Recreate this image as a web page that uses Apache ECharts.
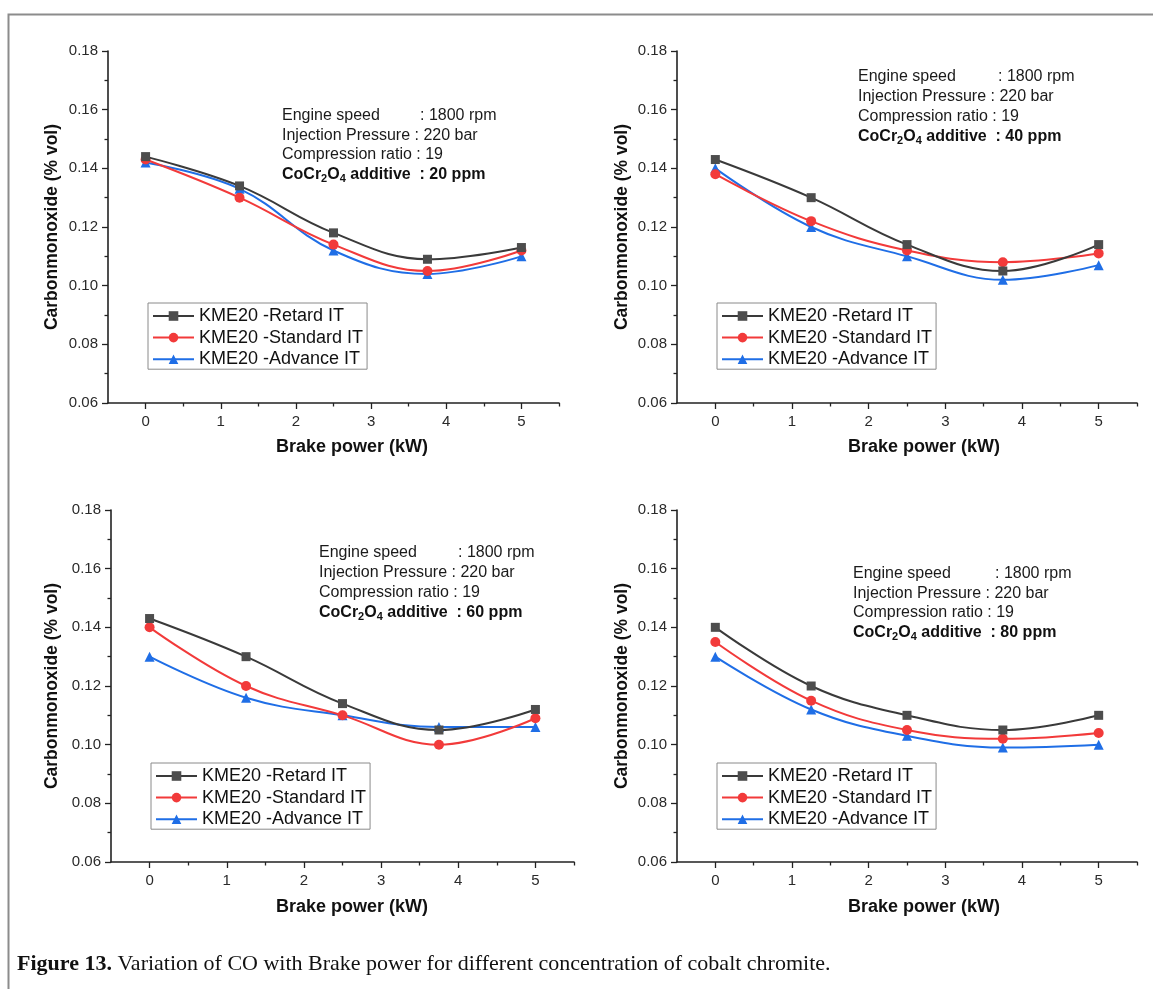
<!DOCTYPE html>
<html>
<head>
<meta charset="utf-8">
<script src="https://cdn.jsdelivr.net/npm/echarts@6/dist/echarts.min.js"></script>
<style>
html,body{margin:0;padding:0;background:#fff;}
#chart{width:1153px;height:989px;}
</style>
</head>
<body>
<div id="chart"></div>
<script>
// ---- data ----
const brakePower = [0, 1.25, 2.5, 3.75, 5];
const seriesNames = ['KME20 -Retard IT', 'KME20 -Standard IT', 'KME20 -Advance IT'];
const xTickValues = [0, 1, 2, 3, 4, 5];
const xMinorTickValues = [0.5, 1.5, 2.5, 3.5, 4.5, 5.5];
const additiveLabels = ['20 ppm', '40 ppm', '60 ppm', '80 ppm'];

const retard20 = [0.144, 0.134, 0.118, 0.109, 0.113];
const standard20 = [0.143, 0.130, 0.114, 0.105, 0.112];
const advance20 = [0.142, 0.133, 0.112, 0.104, 0.110];

const retard40 = [0.143, 0.130, 0.114, 0.105, 0.114];
const standard40 = [0.138, 0.122, 0.112, 0.108, 0.111];
const advance40 = [0.140, 0.120, 0.110, 0.102, 0.107];

const retard60 = [0.143, 0.130, 0.114, 0.105, 0.112];
const standard60 = [0.140, 0.120, 0.110, 0.100, 0.109];
const advance60 = [0.130, 0.116, 0.110, 0.106, 0.106];

const retard80 = [0.140, 0.120, 0.110, 0.105, 0.110];
const standard80 = [0.135, 0.115, 0.105, 0.102, 0.104];
const advance80 = [0.130, 0.112, 0.103, 0.099, 0.100];

const panelData = [
  [retard20, standard20, advance20],
  [retard40, standard40, advance40],
  [retard60, standard60, advance60],
  [retard80, standard80, advance80]
];

// ---- layout / style ----
const FONT = 'Arial, "Liberation Sans", sans-serif';
const SERIF = '"Liberation Serif", "Times New Roman", serif';
const grids = [
  {left: 108, top: 51, width: 451, height: 352},
  {left: 677, top: 51, width: 460, height: 352},
  {left: 111, top: 510, width: 463, height: 352},
  {left: 677, top: 510, width: 460, height: 352}
];
const legendPos = [
  {left: 148, top: 303},
  {left: 717, top: 303},
  {left: 151, top: 763},
  {left: 717, top: 763}
];
const annot = [
  {x: 282, y: 116, colon: 420, dy: 19.4},
  {x: 858, y: 77, colon: 998, dy: 19.7},
  {x: 319, y: 553, colon: 458, dy: 19.7},
  {x: 853, y: 574, colon: 995, dy: 19.4}
];
const xTitlePos = [{x: 352, y: 447}, {x: 924, y: 447}, {x: 352, y: 907}, {x: 924, y: 907}];
const yTitlePos = [{x: 52, y: 227}, {x: 622, y: 227}, {x: 52, y: 686}, {x: 622, y: 686}];

const styles = [
  {line: '#3a3a3a', fill: '#4d4d4d', symbol: 'rect', size: 9},
  {line: '#f23a3a', fill: '#f23a3a', symbol: 'circle', size: 10},
  {line: '#1f6ee6', fill: '#1f6ee6', symbol: 'triangle', size: 10}
];

const axisColor = '#222';
const xAxes = [], yAxes = [], series = [], legends = [], graphics = [];

grids.forEach((g, i) => {
  xAxes.push({
    type: 'value', gridIndex: i, min: -0.5, max: 5.5,
    axisLine: {show: true, onZero: false, lineStyle: {color: axisColor, width: 1.6}},
    axisTick: {show: true, customValues: xTickValues, length: 6, lineStyle: {color: axisColor, width: 1.3}},
    axisLabel: {show: true, customValues: xTickValues, fontSize: 15, color: '#2a2a2a', fontFamily: FONT, margin: 11},
    splitLine: {show: false}
  });
  xAxes.push({
    type: 'value', gridIndex: i, min: -0.5, max: 5.5, position: 'bottom',
    axisLine: {show: false, onZero: false},
    axisTick: {show: true, customValues: xMinorTickValues, length: 3.5, lineStyle: {color: axisColor, width: 1.3}},
    axisLabel: {show: false},
    splitLine: {show: false}
  });
  yAxes.push({
    type: 'value', gridIndex: i, min: 0.06, max: 0.18, interval: 0.02,
    axisLine: {show: true, onZero: false, lineStyle: {color: axisColor, width: 1.6}},
    axisTick: {show: true, length: 6, lineStyle: {color: axisColor, width: 1.3}},
    minorTick: {show: true, splitNumber: 2, length: 3.5, lineStyle: {color: axisColor, width: 1.3}},
    axisLabel: {fontSize: 15, color: '#2a2a2a', fontFamily: FONT, margin: 10,
      formatter: v => v.toFixed(2)},
    splitLine: {show: false}
  });
  panelData[i].forEach((vals, k) => {
    const st = styles[k];
    series.push({
      name: seriesNames[k], type: 'line', xAxisIndex: 2 * i, yAxisIndex: i,
      data: brakePower.map((x, j) => [x, vals[j]]),
      smooth: 0.4,
      symbol: st.symbol, symbolSize: st.size,
      lineStyle: {color: st.line, width: 2},
      itemStyle: {color: st.fill},
      z: 3 + (2 - k),
      animation: false
    });
  });
  legends.push({
    data: seriesNames, orient: 'vertical', left: legendPos[i].left, top: legendPos[i].top,
    itemWidth: 41, itemHeight: 12, itemGap: 3.6,
    padding: [4, 4, 1, 4],
    borderColor: '#8a8a8a', borderWidth: 1,
    textStyle: {fontSize: 18, lineHeight: 18, color: '#111', fontFamily: FONT},
    selectedMode: false
  });

  // annotations
  const a = annot[i];
  graphics.push({type: 'text', x: a.x, y: a.y, silent: true,
    style: {text: 'Engine speed', fill: '#1a1a1a', font: '16px ' + FONT, verticalAlign: 'middle'}});
  graphics.push({type: 'text', x: a.colon, y: a.y, silent: true,
    style: {text: ': 1800 rpm', fill: '#1a1a1a', font: '16px ' + FONT, verticalAlign: 'middle'}});
  graphics.push({type: 'text', x: a.x, y: a.y + a.dy, silent: true,
    style: {text: 'Injection Pressure : 220 bar', fill: '#1a1a1a', font: '16px ' + FONT, verticalAlign: 'middle'}});
  graphics.push({type: 'text', x: a.x, y: a.y + 2 * a.dy, silent: true,
    style: {text: 'Compression ratio : 19', fill: '#1a1a1a', font: '16px ' + FONT, verticalAlign: 'middle'}});
  graphics.push({type: 'text', x: a.x, y: a.y + 3 * a.dy - 10, silent: true,
    style: {
      text: '{b|CoCr}{s|2}{b|O}{s|4}{b| additive  : ' + additiveLabels[i] + '}',
      rich: {
        b: {fontSize: 16, fontWeight: 'bold', fontFamily: FONT, fill: '#111', lineHeight: 20},
        s: {fontSize: 11, fontWeight: 'bold', fontFamily: FONT, fill: '#111', lineHeight: 10, padding: [10, 0, 0, 0]}
      }
    }});

  // axis titles
  graphics.push({type: 'text', x: xTitlePos[i].x, y: xTitlePos[i].y, silent: true,
    style: {text: 'Brake power (kW)', fill: '#111', font: 'bold 18px ' + FONT, align: 'center', verticalAlign: 'middle'}});
  graphics.push({type: 'text', x: yTitlePos[i].x, y: yTitlePos[i].y, rotation: Math.PI / 2, silent: true,
    style: {text: 'Carbonmonoxide (% vol)', fill: '#111', font: 'bold 17.5px ' + FONT, align: 'center', verticalAlign: 'middle'}});
});

// frame
graphics.unshift({type: 'rect', shape: {x: 8.5, y: 14.5, width: 1300, height: 1100}, silent: true,
  style: {fill: 'none', stroke: '#8c8c8c', lineWidth: 2}, z: -10});
// caption
graphics.push({type: 'text', x: 17, y: 964, silent: true,
  style: {
    text: '{b|Figure 13.}{n| Variation of CO with Brake power for different concentration of cobalt chromite.}',
    verticalAlign: 'middle',
    rich: {
      b: {fontSize: 22, fontWeight: 'bold', fontFamily: SERIF, fill: '#111'},
      n: {fontSize: 22, fontFamily: SERIF, fill: '#111'}
    }
  }});

const chart = echarts.init(document.getElementById('chart'), null, {renderer: 'canvas'});
chart.setOption({
  animation: false,
  backgroundColor: '#fff',
  grid: grids.map(g => Object.assign({}, g)),
  xAxis: xAxes,
  yAxis: yAxes,
  legend: legends,
  series: series,
  graphic: graphics
});
</script>
</body>
</html>
